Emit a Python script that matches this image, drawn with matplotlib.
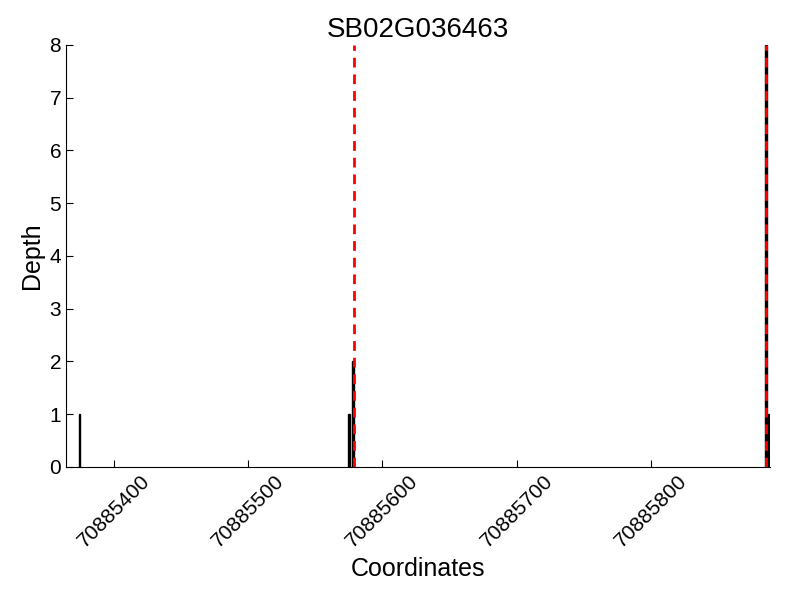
import matplotlib
matplotlib.use('Agg')
import matplotlib.pyplot as plt

# read depth per coordinate
positions = [70885374, 70885575, 70885578, 70885886, 70885888]
depth = [1, 1, 2, 8, 1]
# splice sites / boundaries
boundaries = [70885579, 70885886]
xticks = [70885400, 70885500, 70885600, 70885700, 70885800]
yticks = [0, 1, 2, 3, 4, 5, 6, 7, 8]

plt.rcParams['font.family'] = ['Liberation Sans', 'DejaVu Sans']

fig = plt.figure(figsize=(8, 6), dpi=100)
ax = fig.add_axes([0.0825, 0.222, 0.88, 0.703])

ax.bar(positions, depth, width=1, color='black', edgecolor='black', linewidth=1)
for b in boundaries:
    ax.axvline(b, color='#ff0000', linestyle='--', dashes=(3.5, 2.5), linewidth=2)

ax.set_xlim(70885364, 70885889)
ax.set_ylim(0, 8)
ax.set_xticks(xticks)
ax.set_xticklabels([str(t) for t in xticks], rotation=45, fontsize=15)
ax.set_yticks(yticks)
ax.set_yticklabels([str(t) for t in yticks], fontsize=15)
ax.tick_params(direction='in', length=5, top=False, right=False)
ax.spines['top'].set_visible(False)
ax.spines['right'].set_visible(False)

ax.set_title('SB02G036463', fontsize=20)
ax.set_xlabel('Coordinates', fontsize=18)
ax.set_ylabel('Depth', fontsize=18)

fig.savefig('out.png', dpi=100)
